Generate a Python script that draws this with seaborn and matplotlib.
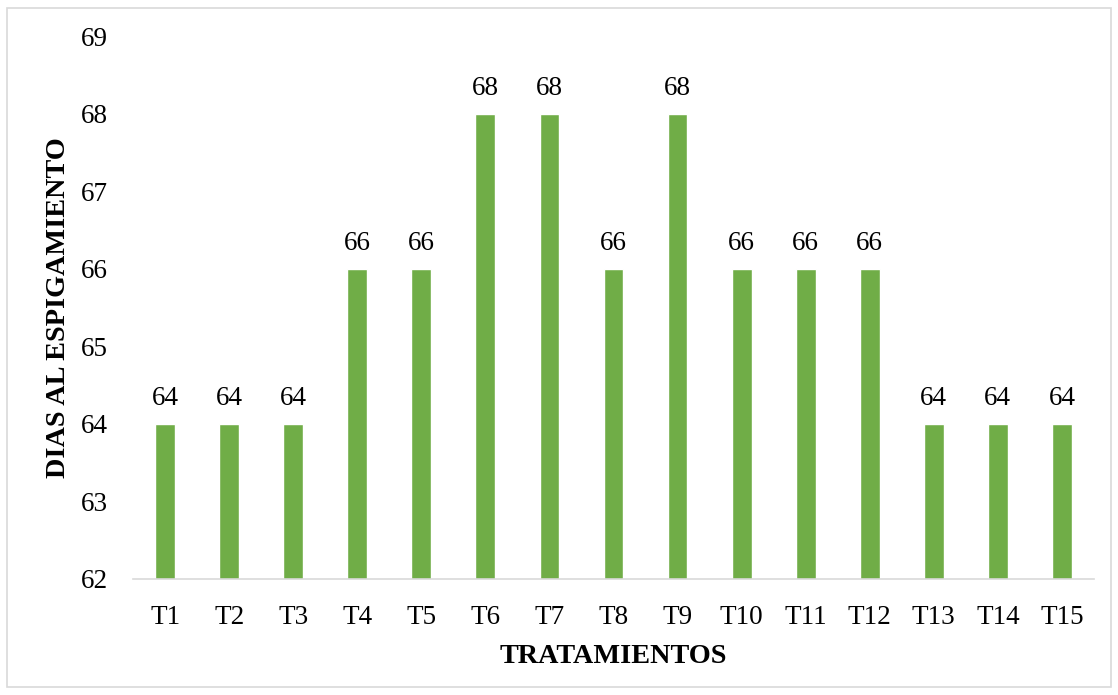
import pandas as pd
import matplotlib.pyplot as plt
import seaborn as sns
from matplotlib.patches import Rectangle

tratamientos = ["T1", "T2", "T3", "T4", "T5", "T6", "T7", "T8", "T9", "T10",
                "T11", "T12", "T13", "T14", "T15"]
dias = [64, 64, 64, 66, 66, 68, 68, 66, 68, 66, 66, 66, 64, 64, 64]
y_ticks = [62, 63, 64, 65, 66, 67, 68, 69]

df = pd.DataFrame({"tratamiento": tratamientos, "dias": dias})

sns.set_style("white")
plt.rcParams["font.family"] = ["Liberation Serif", "DejaVu Serif"]
plt.rcParams["text.color"] = "black"
plt.rcParams["xtick.color"] = "black"
plt.rcParams["ytick.color"] = "black"
plt.rcParams["axes.labelcolor"] = "black"

fig = plt.figure(figsize=(11.18, 6.95), dpi=100)
ax = fig.add_axes([0.119, 0.167, 0.8595, 0.7805])

sns.barplot(data=df, x="tratamiento", y="dias", color="#70AD47",
            width=0.31, saturation=1, ax=ax)

ax.set_ylim(62, 69)
ax.set_yticks(y_ticks)
ax.set_xlim(-0.5, len(tratamientos) - 0.5)

# etiquetas de valor sobre las barras
for i, v in enumerate(dias):
    ax.text(i, v + 0.17, str(v), ha="center", va="bottom", fontsize=19.5)

for s in ["top", "right", "left"]:
    ax.spines[s].set_visible(False)
ax.spines["bottom"].set_color("#D9D9D9")
ax.spines["bottom"].set_linewidth(1.2)

ax.tick_params(axis="both", length=0, labelsize=19.5)
ax.tick_params(axis="x", pad=19)
ax.tick_params(axis="y", pad=18)

ax.set_xlabel("TRATAMIENTOS", fontsize=20.3, fontweight="bold", labelpad=10)
ax.set_ylabel("DIAS AL ESPIGAMIENTO", fontsize=20.3, fontweight="bold", labelpad=7)

# borde exterior del gráfico
fig.patches.append(Rectangle((0.006, 0.012), 0.988, 0.976, transform=fig.transFigure,
                             fill=False, edgecolor="#D9D9D9", linewidth=1.2))

fig.savefig("out.png", dpi=100)
